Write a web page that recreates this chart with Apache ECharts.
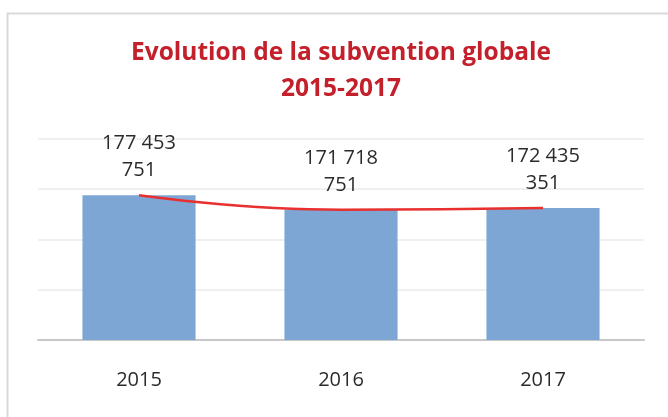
<!DOCTYPE html>
<html>
<head>
<meta charset="utf-8">
<script src="https://cdn.jsdelivr.net/npm/echarts@6/dist/echarts.min.js"></script>
<style>
  html, body { margin: 0; padding: 0; background: #fff; }
  #main { width: 668px; height: 417px; }
</style>
</head>
<body>
<div id="main"></div>
<script>
// données
var annees = ['2015', '2016', '2017']
var subvention = [177453751, 171718751, 172435351]

// 177453751 -> "177 453\n751"
function formatMontant(v) {
  var s = String(v).replace(/\B(?=(\d{3})+(?!\d))/g, ' ')
  var parts = s.split(' ')
  return parts.slice(0, 2).join(' ') + '\n' + parts.slice(2).join(' ')
}

var chart = echarts.init(document.getElementById('main'))

chart.setOption({
  animation: false,
  title: {
    text: 'Evolution de la subvention globale\n2015-2017',
    left: 336,
    textAlign: 'center',
    top: 30,
    textStyle: {
      fontFamily: 'Open Sans',
      fontWeight: 'bold',
      fontSize: 24.5,
      lineHeight: 36,
      color: '#c3202b'
    }
  },
  graphic: [{
    type: 'rect',
    shape: { x: 7.5, y: 13.5, width: 700, height: 500 },
    style: { fill: 'none', stroke: '#d9d9d9', lineWidth: 2 },
    silent: true
  }],
  grid: { left: 38, right: 24, top: 138.5, bottom: 77 },
  xAxis: {
    type: 'category',
    data: annees,
    axisTick: { show: false },
    axisLine: { lineStyle: { color: '#c8c8c8', width: 2 } },
    axisLabel: { color: '#2b2b2b', fontFamily: 'Open Sans', fontSize: 20, margin: 30 }
  },
  yAxis: {
    type: 'value',
    min: 120000000,
    max: 200000000,
    interval: 20000000,
    axisLabel: { show: false },
    axisLine: { show: false },
    axisTick: { show: false },
    splitLine: { lineStyle: { color: '#ebebeb', width: 1.5 } }
  },
  series: [{
    type: 'bar',
    data: subvention,
    barCategoryGap: '44%',
    itemStyle: { color: '#7ea6d5' },
    label: {
      show: true,
      position: 'top',
      distance: 11,
      color: '#2b2b2b',
      fontFamily: 'Open Sans',
      fontSize: 20,
      lineHeight: 27,
      formatter: function (p) { return formatMontant(p.value) }
    },
    z: 2
  }, {
    type: 'line',
    data: subvention,
    smooth: true,
    symbol: 'none',
    lineStyle: { color: '#e8302f', width: 2.5 },
    z: 3
  }]
})
</script>
</body>
</html>
